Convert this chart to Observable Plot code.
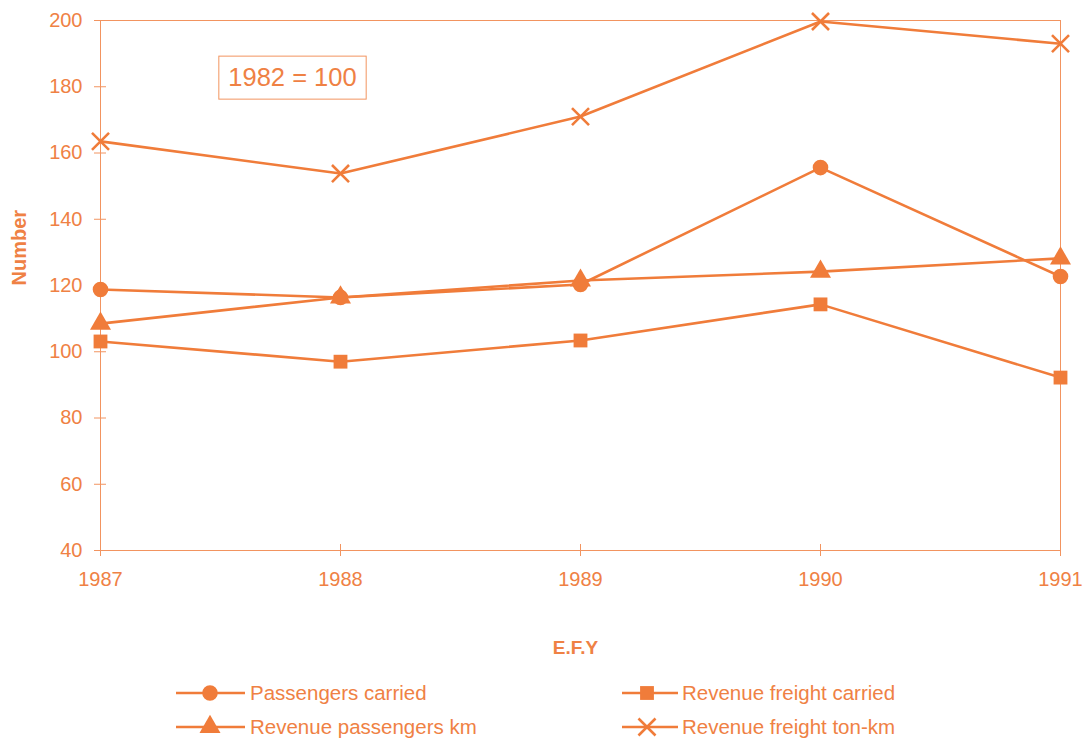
<!DOCTYPE html>
<html>
<head>
<meta charset="utf-8">
<script src="https://cdn.jsdelivr.net/npm/d3@7"></script>
<script src="https://cdn.jsdelivr.net/npm/@observablehq/plot@0.6"></script>
<style>
  html, body { margin: 0; padding: 0; background: #fff; }
  #wrap { position: relative; width: 1088px; height: 743px; }
  #legend { position: absolute; left: 0; top: 670px; }
</style>
</head>
<body>
<div id="wrap"></div>
<script>
const years = [1987, 1988, 1989, 1990, 1991];
const passengersCarried = [118.8, 116.4, 120.3, 155.6, 122.7];
const revenuePassengersKm = [108.5, 116.4, 121.5, 124.2, 128.2];
const revenueFreightCarried = [103.1, 97.0, 103.4, 114.3, 92.2];
const revenueFreightTonKm = [163.5, 153.8, 171.0, 199.7, 193.0];
const seriesNames = ["Passengers carried", "Revenue passengers km", "Revenue freight carried", "Revenue freight ton-km"];
const seriesSymbols = ["circle", "triangle", "square", "times"];
const yTicks = [40, 60, 80, 100, 120, 140, 160, 180, 200];
const annotation = [{x: 1987.8, y: 182.8, text: "1982 = 100"}];

const LINE = "#f07c3a";
const TEXT = "#ef8144";
const AXIS = "#f29460";
const FONT = "'Liberation Sans', Arial, sans-serif";

const allValues = [passengersCarried, revenuePassengersKm, revenueFreightCarried, revenueFreightTonKm];
const rows = [];
allValues.forEach((vals, i) => {
  vals.forEach((v, j) => rows.push({series: seriesNames[i], symbol: seriesSymbols[i], year: years[j], value: v}));
});

const chart = Plot.plot({
  width: 1088,
  height: 743,
  marginLeft: 100,
  marginRight: 28,
  marginTop: 20,
  marginBottom: 193,
  style: {fontFamily: FONT, fontSize: "20px", color: TEXT, background: "#fff", overflow: "visible"},
  x: {domain: [1987, 1991]},
  y: {domain: [40, 200]},
  marks: [
    Plot.frame({stroke: AXIS, strokeWidth: 1}),
    Plot.axisX({ticks: years, tickSize: 12, dy: -6, fill: "none", stroke: AXIS, label: null}),
    Plot.axisY({ticks: yTicks, tickSize: 12, dx: 6, fill: "none", stroke: AXIS, label: null}),
    Plot.axisX({ticks: years, tickSize: 0, tickPadding: 21, tickFormat: d => String(d), label: null, fill: TEXT}),
    Plot.axisY({ticks: yTicks, tickSize: 0, tickPadding: 18, label: null, fill: TEXT}),
    Plot.text(["Number"], {frameAnchor: "left", dx: -81, rotate: -90, fontWeight: "bold", fontSize: 20, fill: TEXT}),
    Plot.text(["E.F.Y"], {frameAnchor: "bottom", dx: -5, dy: 97, lineAnchor: "middle", fontWeight: "bold", fontSize: 19, fill: TEXT}),
    Plot.text(annotation, {x: "x", y: "y", text: "text", fontSize: 25.5, fill: TEXT, lineAnchor: "middle", className: "anno"}),
    Plot.lineY(rows, {x: "year", y: "value", z: "series", stroke: LINE, strokeWidth: 2.6}),
    Plot.dot(rows, {x: "year", y: "value", symbol: "symbol", r: 7.8, fill: d => d.symbol === "times" ? "none" : LINE, stroke: d => d.symbol === "times" ? LINE : "none", strokeWidth: 2.6})
  ]
});

document.getElementById("wrap").appendChild(chart);

// box around the annotation text
const annoText = chart.querySelector(".anno text") || chart.querySelector("g.anno text");
if (annoText) {
  const bb = annoText.getBBox();
  const cx = bb.x + bb.width / 2, cy = bb.y + bb.height / 2;
  const w = bb.width + 19, h = 43;
  const rect = document.createElementNS("http://www.w3.org/2000/svg", "rect");
  rect.setAttribute("x", cx - w / 2);
  rect.setAttribute("y", cy - h / 2 + 1);
  rect.setAttribute("width", w);
  rect.setAttribute("height", h);
  rect.setAttribute("fill", "none");
  rect.setAttribute("stroke", AXIS);
  rect.setAttribute("stroke-width", 1);
  const tr = annoText.getAttribute("transform");
  if (tr) rect.setAttribute("transform", tr);
  annoText.parentNode.insertBefore(rect, annoText);
}

// legend
const legend = d3.select("#wrap").append("svg")
  .attr("id", "legend").attr("width", 1088).attr("height", 73)
  .style("font-family", FONT).style("font-size", "20.5px");
const legendPos = [
  {x0: 176, x1: 245, m: 210, tx: 250, y: 23},
  {x0: 176, x1: 245, m: 210, tx: 250, y: 57},
  {x0: 622, x1: 678, m: 647, tx: 682, y: 23},
  {x0: 622, x1: 678, m: 647, tx: 682, y: 57}
];
const symMap = {circle: d3.symbolCircle, triangle: d3.symbolTriangle, square: d3.symbolSquare, times: d3.symbolTimes};
seriesNames.forEach((name, i) => {
  const p = legendPos[i];
  const g = legend.append("g");
  g.append("line").attr("x1", p.x0).attr("x2", p.x1).attr("y1", p.y).attr("y2", p.y)
    .attr("stroke", LINE).attr("stroke-width", 2.6);
  const s = seriesSymbols[i];
  const r = 7.8;
  g.append("path").attr("transform", `translate(${p.m},${p.y})`)
    .attr("d", d3.symbol(symMap[s], r * r * Math.PI)())
    .attr("fill", s === "times" ? "none" : LINE)
    .attr("stroke", s === "times" ? LINE : "none")
    .attr("stroke-width", 2.6);
  g.append("text").attr("x", p.tx).attr("y", p.y).attr("dy", "0.35em")
    .attr("fill", TEXT).text(name);
});
</script>
</body>
</html>
